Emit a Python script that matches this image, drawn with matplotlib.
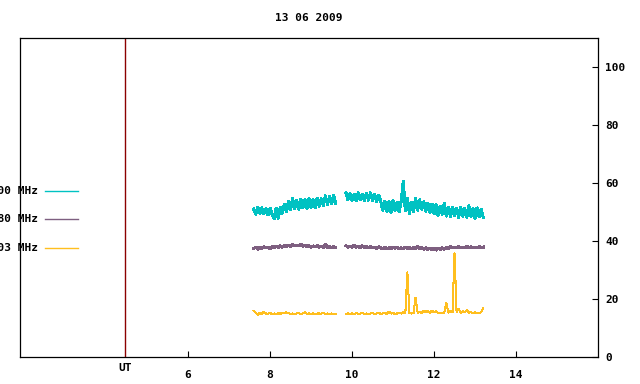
import numpy as np
import matplotlib
matplotlib.use("Agg")
from matplotlib import pyplot as plt
from matplotlib.lines import Line2D

plt.rcParams["font.family"] = "DejaVu Sans Mono"
plt.rcParams["font.weight"] = "bold"
plt.rcParams["font.size"] = 8

title = "13 06 2009"
labels = ["2800 MHz", "1980 MHz", "1003 MHz"]
colors = ["#00c2c2", "#7e5f80", "#ffbf1f"]

# time ranges (UT hours) of the two observing segments
seg1_start, seg1_end = 7.60, 9.60
seg2_start, seg2_end = 9.85, 13.20

cyan1 = [51.0, 49.2, 51.6, 49.5, 51.4, 49.4, 51.2, 49.0, 51.3, 49.1,
         47.6, 51.4, 47.8, 51.6, 49.6, 52.6, 50.2, 53.6, 50.8, 54.6,
         51.2, 54.0, 51.0, 54.5, 51.4, 54.2, 51.3, 54.6, 51.6, 54.3,
         51.5, 54.8, 52.0, 54.6, 52.2, 55.6, 52.6, 55.4, 52.8, 55.8, 53.0]
cyan2 = [56.6, 54.2, 56.4, 54.0, 56.2, 53.8, 56.7, 54.3, 56.0, 53.9,
         56.4, 54.1, 56.6, 54.0, 56.1, 53.6, 55.8, 53.7, 50.6, 53.8,
         50.2, 53.6, 49.8, 53.9, 50.6, 53.4, 50.0, 53.8, 60.5, 50.4,
         54.6, 49.4, 53.4, 50.2, 54.8, 50.6, 54.2, 50.9, 53.6, 50.3,
         53.1, 49.8, 52.7, 49.4, 52.5, 48.8, 52.0, 49.2, 53.0, 48.6,
         51.6, 48.5, 51.7, 48.8, 51.3, 48.1, 51.6, 48.6, 51.2, 48.2,
         52.2, 48.4, 51.2, 47.9, 51.4, 48.3, 50.9, 48.2]

purple1 = [37.4, 37.9, 37.2, 37.8, 37.5, 38.0, 37.6, 37.9, 37.4, 38.1,
           37.7, 38.2, 37.8, 38.3, 37.9, 38.4, 38.1, 38.6, 38.2, 38.8,
           38.3, 38.6, 38.4, 38.9, 38.2, 38.5, 38.1, 38.4, 37.9, 38.3,
           38.0, 38.4, 37.9, 38.2, 37.8, 38.9, 37.7, 38.1, 37.6, 38.0, 37.8]
purple2 = [38.4, 37.9, 38.2, 37.8, 38.5, 37.9, 38.1, 37.7, 38.3, 37.8,
           38.0, 37.6, 38.1, 37.7, 37.9, 37.5, 38.0, 37.6, 37.4, 37.8,
           37.3, 37.7, 37.4, 37.9, 37.5, 37.8, 37.3, 37.6, 37.4, 37.9,
           37.5, 37.7, 37.3, 37.8, 37.4, 38.2, 37.5, 37.7, 37.2, 37.6,
           37.1, 37.5, 37.0, 37.4, 36.9, 37.5, 37.1, 37.6, 37.2, 37.8,
           37.5, 38.0, 37.6, 37.9, 37.6, 38.1, 37.7, 37.9, 37.6, 38.2,
           37.7, 38.0, 37.6, 37.9, 37.7, 38.0, 37.8, 37.9]

yellow1 = [15.9, 15.2, 14.6, 15.3, 14.8, 15.6, 15.0, 14.9, 15.2, 14.8,
           15.0, 14.9, 15.1, 14.8, 15.3, 15.0, 15.4, 15.1, 14.9, 15.0,
           14.8, 15.0, 15.1, 14.9, 15.0, 15.4, 14.8, 15.0, 14.9, 15.0,
           14.8, 15.0, 15.0, 14.9, 15.3, 14.8, 15.0, 14.9, 15.0, 14.8, 14.9]
yellow2 = [14.9, 15.0, 14.9, 15.0, 14.8, 15.1, 14.9, 15.0, 15.3, 14.8,
           15.0, 14.9, 15.0, 15.1, 14.9, 15.0, 15.2, 14.9, 15.0, 15.1,
           14.9, 15.6, 15.0, 15.1, 14.9, 15.0, 15.1, 15.0, 15.6, 15.0,
           29.2, 15.1, 15.0, 15.2, 20.5, 15.3, 15.6, 15.2, 16.0, 15.5,
           15.8, 15.2, 16.0, 15.4, 15.9, 15.1, 15.3, 15.0, 15.2, 18.8,
           15.3, 15.8, 15.4, 35.8, 15.6, 16.6, 15.2, 15.8, 15.4, 16.2,
           15.3, 15.5, 15.1, 15.4, 15.0, 15.2, 15.4, 17.0]

series = [(cyan1, cyan2), (purple1, purple2), (yellow1, yellow2)]
widths = [1.5, 1.5, 0.75]

fig = plt.figure(figsize=(6.4, 3.84), dpi=100)
ax = fig.add_axes([20 / 640, 27 / 384, 578 / 640, 319 / 384])

for (s1, s2), c, w in zip(series, colors, widths):
    t1 = np.linspace(seg1_start, seg1_end, len(s1))
    t2 = np.linspace(seg2_start, seg2_end, len(s2))
    ax.plot(t1, s1, color=c, lw=w, antialiased=False)
    ax.plot(t2, s2, color=c, lw=w, antialiased=False)

ax.axvline(4.46, color="#8b0000", lw=1)

ax.set_xlim(1.9, 16)
ax.set_ylim(0, 110)
ax.set_xticks([6, 8, 10, 12, 14])
ax.set_yticks([0, 20, 40, 60, 80, 100])
ax.yaxis.tick_right()
ax.tick_params(axis="both", direction="in", length=4, width=0.8, colors="black")
ax.tick_params(axis="x", pad=9)
ax.tick_params(axis="y", pad=5)
for s in ax.spines.values():
    s.set_linewidth(0.9)
ax.text(4.46, -2.2, "UT", ha="center", va="top", fontsize=8, fontweight="bold")

fig.text(309 / 640, 1 - 18 / 384, title, ha="center", va="center", fontsize=8, fontweight="bold")

# key drawn outside the axes, text runs off the left edge like the original
for lab, c, yp in zip(labels, colors, [191, 219, 248]):
    yf = 1 - yp / 384
    fig.add_artist(Line2D([45 / 640, 78 / 640], [yf, yf], color=c, lw=1))
    fig.text(38 / 640, yf, lab, ha="right", va="center", fontsize=8, fontweight="bold")

fig.savefig("out.png", dpi=100)
